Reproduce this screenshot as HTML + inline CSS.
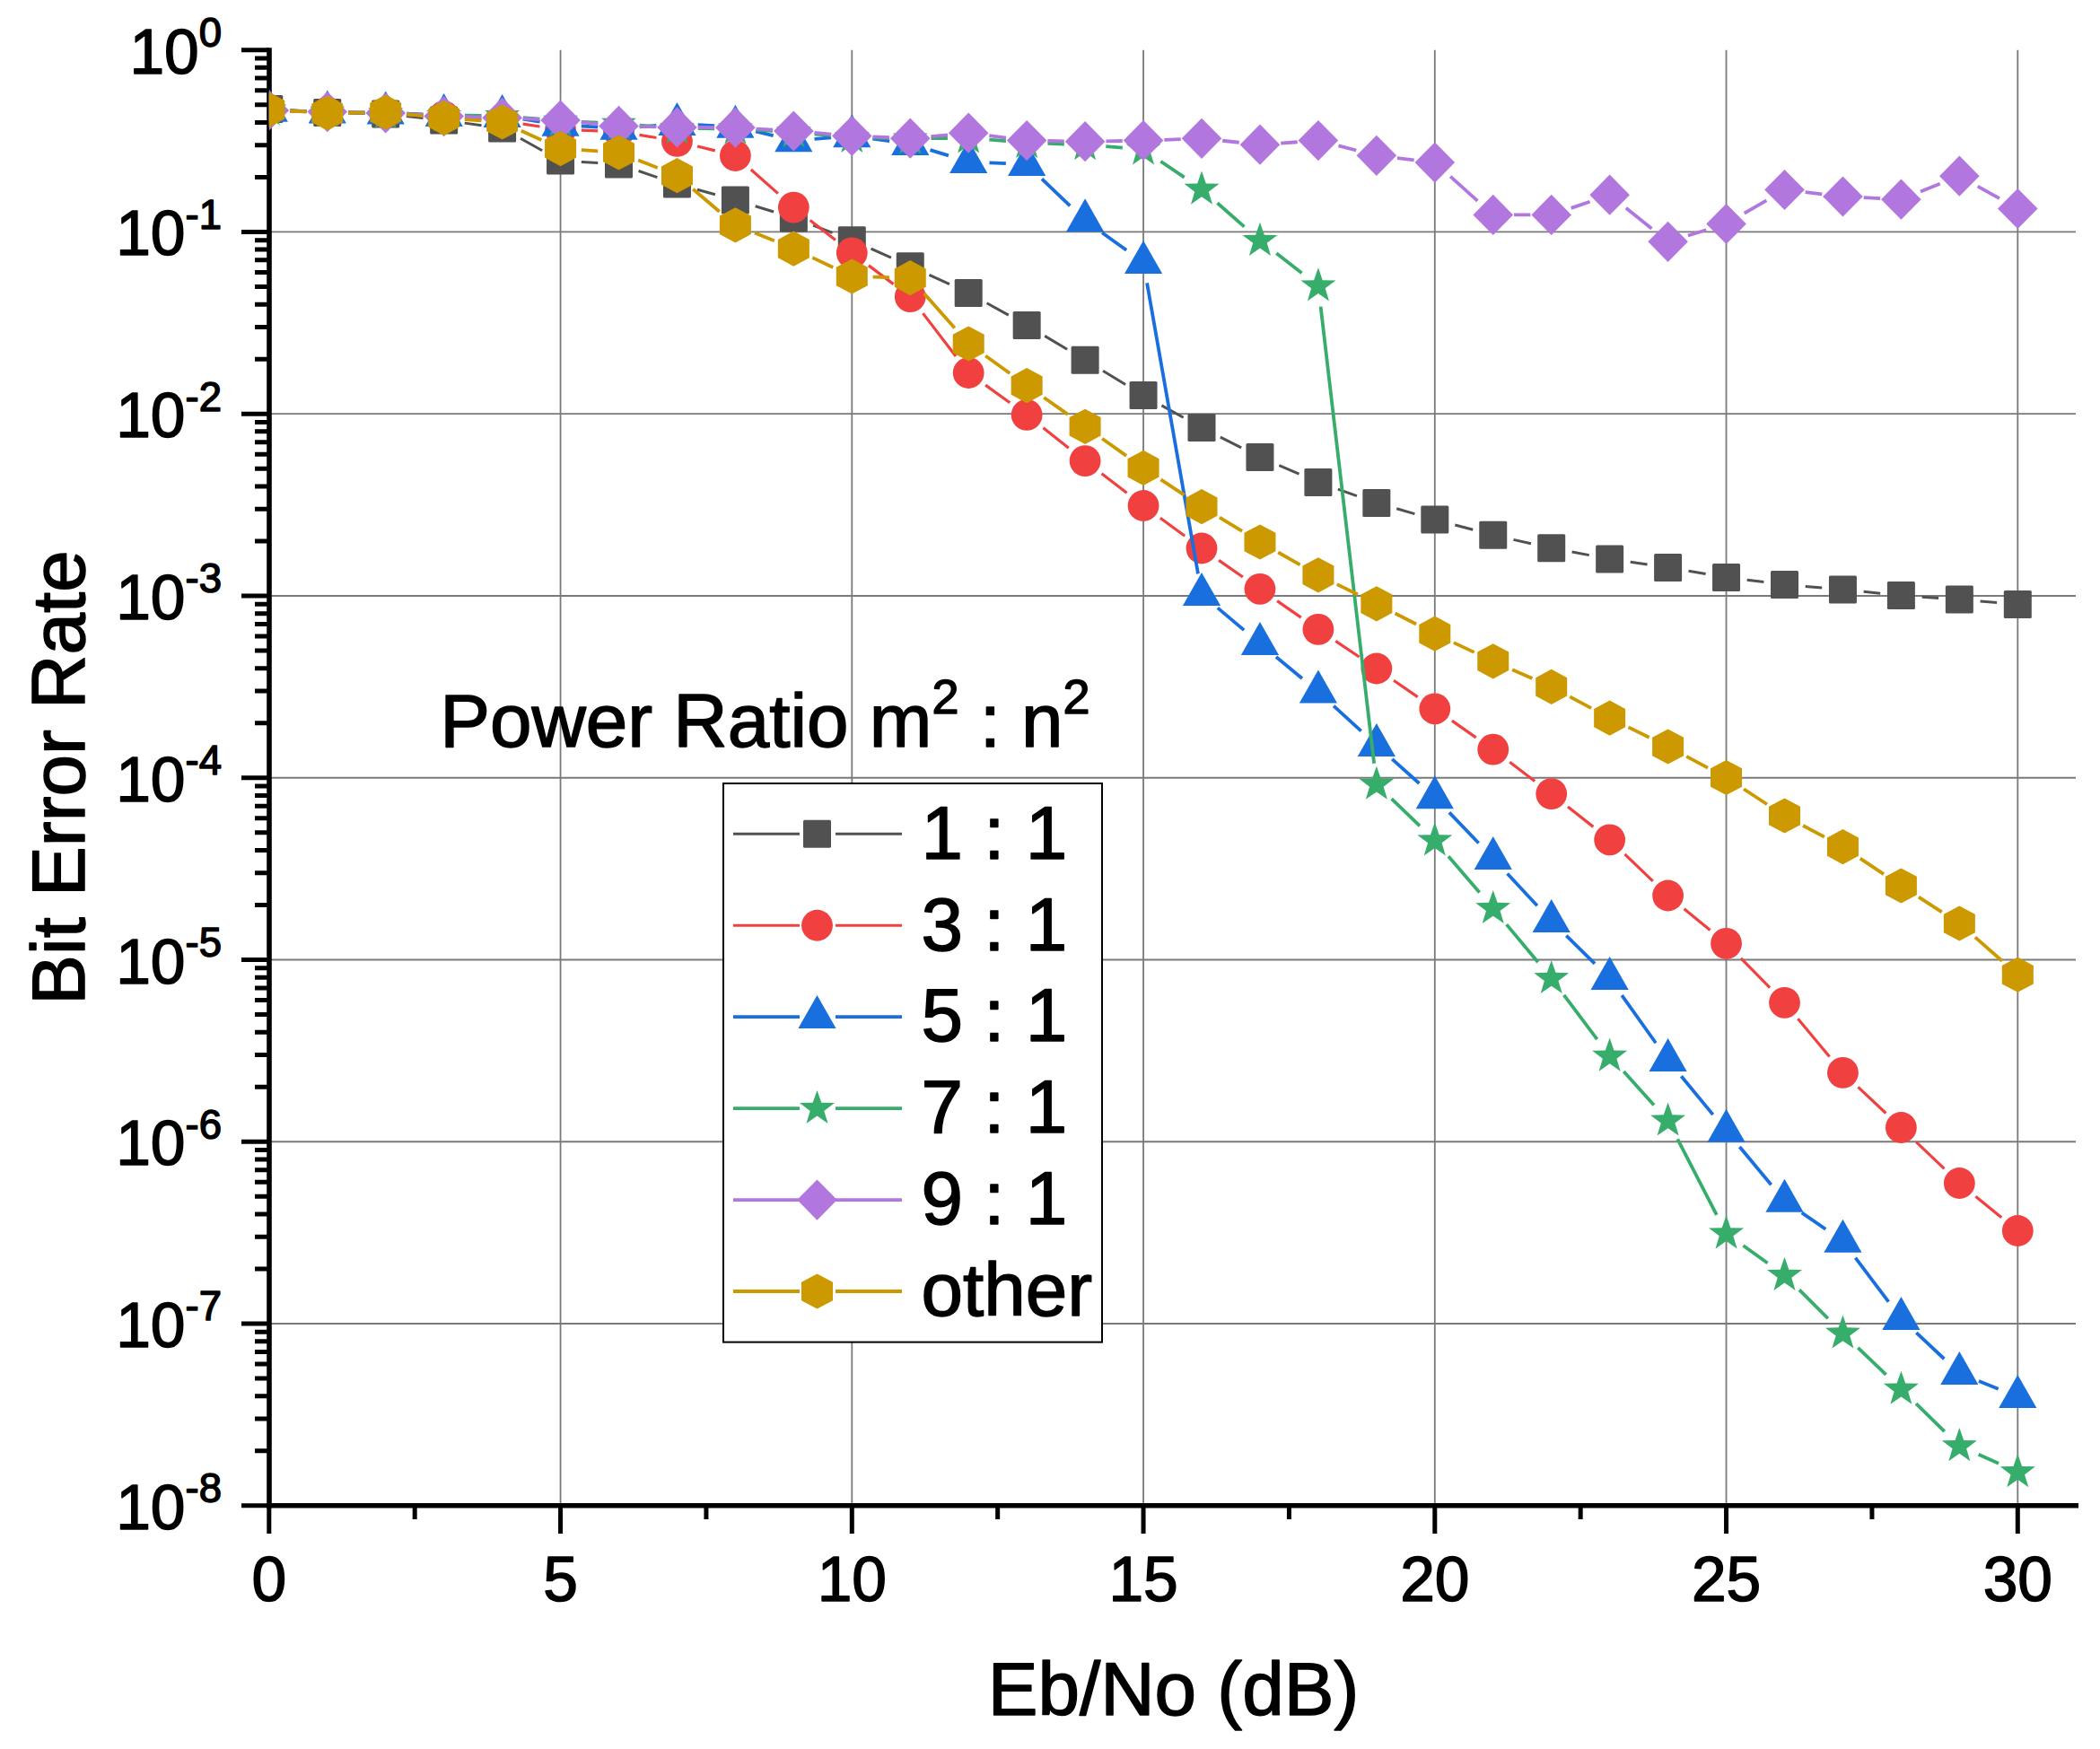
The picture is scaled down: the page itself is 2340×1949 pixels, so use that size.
<!DOCTYPE html>
<html><head><meta charset="utf-8"><title>Bit Error Rate vs Eb/No</title>
<style>html,body{margin:0;padding:0;background:#fff}svg{display:block}text{font-family:"Liberation Sans",Arial,sans-serif;fill:#000;stroke:#000;stroke-width:1.5px;stroke-linejoin:round}</style></head><body>
<svg width="2340" height="1949" viewBox="0 0 2340 1949">
<rect width="2340" height="1949" fill="#fff"/>
<defs><clipPath id="plot"><rect x="299.8" y="25.7" width="2016.2" height="1652.08"/></clipPath></defs>
<path d="M624.55 55.7V1677.78M949.3 55.7V1677.78M1274.05 55.7V1677.78M1598.8 55.7V1677.78M1923.55 55.7V1677.78M2248.3 55.7V1677.78M299.8 258.46H2313M299.8 461.22H2313M299.8 663.98H2313M299.8 866.74H2313M299.8 1069.5H2313M299.8 1272.26H2313M299.8 1475.02H2313" stroke="#7a7a7a" stroke-width="1.8" fill="none"/>
<path d="M300 53.2V1680.58" stroke="#000" stroke-width="5.6" fill="none"/>
<path d="M297.2 1677.78H2316" stroke="#000" stroke-width="5.6" fill="none"/>
<path d="M269 55.7H300M284 197.42H300M284 161.72H300M284 136.39H300M284 116.74H300M284 100.68H300M284 87.11H300M284 75.35H300M284 64.98H300M269 258.46H300M284 400.18H300M284 364.48H300M284 339.15H300M284 319.5H300M284 303.44H300M284 289.87H300M284 278.11H300M284 267.74H300M269 461.22H300M284 602.94H300M284 567.24H300M284 541.91H300M284 522.26H300M284 506.2H300M284 492.63H300M284 480.87H300M284 470.5H300M269 663.98H300M284 805.7H300M284 770H300M284 744.67H300M284 725.02H300M284 708.96H300M284 695.39H300M284 683.63H300M284 673.26H300M269 866.74H300M284 1008.46H300M284 972.76H300M284 947.43H300M284 927.78H300M284 911.72H300M284 898.15H300M284 886.39H300M284 876.02H300M269 1069.5H300M284 1211.22H300M284 1175.52H300M284 1150.19H300M284 1130.54H300M284 1114.48H300M284 1100.91H300M284 1089.15H300M284 1078.78H300M269 1272.26H300M284 1413.98H300M284 1378.28H300M284 1352.95H300M284 1333.3H300M284 1317.24H300M284 1303.67H300M284 1291.91H300M284 1281.54H300M269 1475.02H300M284 1616.74H300M284 1581.04H300M284 1555.71H300M284 1536.06H300M284 1520H300M284 1506.43H300M284 1494.67H300M284 1484.3H300M269 1677.78H300M299.8 1677.78V1709M462.18 1677.78V1693M624.55 1677.78V1709M786.92 1677.78V1693M949.3 1677.78V1709M1111.67 1677.78V1693M1274.05 1677.78V1709M1436.42 1677.78V1693M1598.8 1677.78V1709M1761.17 1677.78V1693M1923.55 1677.78V1709M2085.93 1677.78V1693M2248.3 1677.78V1709" stroke="#000" stroke-width="5" fill="none"/>
<g clip-path="url(#plot)">
<path d="M323.06 122.9L341.49 124M388.04 126.01L406.41 126.49M452.87 129.53L471.48 131.47M517.72 137.13L536.53 139.77M579.98 154.3L604.17 167.7M647.81 180.43L666.24 181.57M711.56 190.51L732.39 197.59M776.92 211.26L796.93 216.74M841.67 229.76L862.08 236.04M906.12 251.21L927.53 259.39M970.58 277.2L992.97 287.2M1035.44 306.39L1058.01 316.71M1099.58 337.7L1123.77 351.1M1164.14 374.37L1189.11 389.33M1229.05 413.34L1254.1 428.46M1294.42 451.82L1318.63 465.28M1359.8 487.1L1383.15 498.9M1425.35 518.62L1447.5 528.18M1490.86 545.18L1511.89 552.62M1556.25 566.81L1576.4 572.59M1621.31 585L1641.24 590.3M1686.49 601.38L1705.96 605.72M1751.61 615.07L1770.74 618.63M1816.7 626.27L1835.55 629.03M1881.57 636.33L1900.58 639.57M1946.68 646.31L1965.37 648.59M2011.71 653.4L2030.24 655M2076.63 659.32L2095.22 661.18M2141.64 665.15L2160.11 666.45M2206.57 670L2225.08 671.5" stroke="#515151" stroke-width="3.0" fill="none"/>
<rect x="284.3" y="106" width="31" height="31" rx="1.5" fill="#515151"/>
<rect x="349.25" y="109.9" width="31" height="31" rx="1.5" fill="#515151"/>
<rect x="414.2" y="111.6" width="31" height="31" rx="1.5" fill="#515151"/>
<rect x="479.15" y="118.4" width="31" height="31" rx="1.5" fill="#515151"/>
<rect x="544.1" y="127.5" width="31" height="31" rx="1.5" fill="#515151"/>
<rect x="609.05" y="163.5" width="31" height="31" rx="1.5" fill="#515151"/>
<rect x="674" y="167.5" width="31" height="31" rx="1.5" fill="#515151"/>
<rect x="738.95" y="189.6" width="31" height="31" rx="1.5" fill="#515151"/>
<rect x="803.9" y="207.4" width="31" height="31" rx="1.5" fill="#515151"/>
<rect x="868.85" y="227.4" width="31" height="31" rx="1.5" fill="#515151"/>
<rect x="933.8" y="252.2" width="31" height="31" rx="1.5" fill="#515151"/>
<rect x="998.75" y="281.2" width="31" height="31" rx="1.5" fill="#515151"/>
<rect x="1063.7" y="310.9" width="31" height="31" rx="1.5" fill="#515151"/>
<rect x="1128.65" y="346.9" width="31" height="31" rx="1.5" fill="#515151"/>
<rect x="1193.6" y="385.8" width="31" height="31" rx="1.5" fill="#515151"/>
<rect x="1258.55" y="425" width="31" height="31" rx="1.5" fill="#515151"/>
<rect x="1323.5" y="461.1" width="31" height="31" rx="1.5" fill="#515151"/>
<rect x="1388.45" y="493.9" width="31" height="31" rx="1.5" fill="#515151"/>
<rect x="1453.4" y="521.9" width="31" height="31" rx="1.5" fill="#515151"/>
<rect x="1518.35" y="544.9" width="31" height="31" rx="1.5" fill="#515151"/>
<rect x="1583.3" y="563.5" width="31" height="31" rx="1.5" fill="#515151"/>
<rect x="1648.25" y="580.8" width="31" height="31" rx="1.5" fill="#515151"/>
<rect x="1713.2" y="595.3" width="31" height="31" rx="1.5" fill="#515151"/>
<rect x="1778.15" y="607.4" width="31" height="31" rx="1.5" fill="#515151"/>
<rect x="1843.1" y="616.9" width="31" height="31" rx="1.5" fill="#515151"/>
<rect x="1908.05" y="628" width="31" height="31" rx="1.5" fill="#515151"/>
<rect x="1973" y="635.9" width="31" height="31" rx="1.5" fill="#515151"/>
<rect x="2037.95" y="641.5" width="31" height="31" rx="1.5" fill="#515151"/>
<rect x="2102.9" y="648" width="31" height="31" rx="1.5" fill="#515151"/>
<rect x="2167.85" y="652.6" width="31" height="31" rx="1.5" fill="#515151"/>
<rect x="2232.8" y="657.9" width="31" height="31" rx="1.5" fill="#515151"/>
<path d="M323.08 123.08L341.47 123.92M388.05 125.36L406.4 125.64M452.96 127.33L471.39 128.37M517.88 131.49L536.37 132.91M582.64 138.18L601.51 141.02M647.84 145.22L666.21 145.78M712.48 150.36L731.47 153.54M777.07 163.01L796.78 167.89M836.83 188.96L866.92 215.64M902.7 245.45L930.95 267.55M967.94 295.88L995.61 316.62M1028.41 349.11L1065.04 396.99M1098.09 429.14L1125.26 448.76M1162.45 476.82L1190.8 499.18M1227.58 527.8L1255.57 549.3M1292.86 577.25L1320.19 597.25M1358.11 624.33L1384.84 642.97M1423.09 669.59L1449.76 688.11M1488.25 714.39L1514.5 732.01M1553.03 758.23L1579.62 776.57M1617.9 803.15L1644.65 821.85M1682.3 849.31L1710.15 870.49M1747 899.02L1775.35 921.38M1810.48 951.92L1841.77 981.88M1876.6 1012.8L1905.55 1036.6M1939.91 1067.99L1972.14 1100.71M2003.4 1135.21L2038.55 1177.49M2070.42 1211.36L2101.43 1240.54M2135.25 1272.59L2166.5 1302.41M2201.4 1333.23L2230.25 1356.77" stroke="#F14040" stroke-width="3.2" fill="none"/>
<circle cx="299.8" cy="122" r="17.4" fill="#F14040"/>
<circle cx="364.75" cy="125" r="17.4" fill="#F14040"/>
<circle cx="429.7" cy="126" r="17.4" fill="#F14040"/>
<circle cx="494.65" cy="129.7" r="17.4" fill="#F14040"/>
<circle cx="559.6" cy="134.7" r="17.4" fill="#F14040"/>
<circle cx="624.55" cy="144.5" r="17.4" fill="#F14040"/>
<circle cx="689.5" cy="146.5" r="17.4" fill="#F14040"/>
<circle cx="754.45" cy="157.4" r="17.4" fill="#F14040"/>
<circle cx="819.4" cy="173.5" r="17.4" fill="#F14040"/>
<circle cx="884.35" cy="231.1" r="17.4" fill="#F14040"/>
<circle cx="949.3" cy="281.9" r="17.4" fill="#F14040"/>
<circle cx="1014.25" cy="330.6" r="17.4" fill="#F14040"/>
<circle cx="1079.2" cy="415.5" r="17.4" fill="#F14040"/>
<circle cx="1144.15" cy="462.4" r="17.4" fill="#F14040"/>
<circle cx="1209.1" cy="513.6" r="17.4" fill="#F14040"/>
<circle cx="1274.05" cy="563.5" r="17.4" fill="#F14040"/>
<circle cx="1339" cy="611" r="17.4" fill="#F14040"/>
<circle cx="1403.95" cy="656.3" r="17.4" fill="#F14040"/>
<circle cx="1468.9" cy="701.4" r="17.4" fill="#F14040"/>
<circle cx="1533.85" cy="745" r="17.4" fill="#F14040"/>
<circle cx="1598.8" cy="789.8" r="17.4" fill="#F14040"/>
<circle cx="1663.75" cy="835.2" r="17.4" fill="#F14040"/>
<circle cx="1728.7" cy="884.6" r="17.4" fill="#F14040"/>
<circle cx="1793.65" cy="935.8" r="17.4" fill="#F14040"/>
<circle cx="1858.6" cy="998" r="17.4" fill="#F14040"/>
<circle cx="1923.55" cy="1051.4" r="17.4" fill="#F14040"/>
<circle cx="1988.5" cy="1117.3" r="17.4" fill="#F14040"/>
<circle cx="2053.45" cy="1195.4" r="17.4" fill="#F14040"/>
<circle cx="2118.4" cy="1256.5" r="17.4" fill="#F14040"/>
<circle cx="2183.35" cy="1318.5" r="17.4" fill="#F14040"/>
<circle cx="2248.3" cy="1371.5" r="17.4" fill="#F14040"/>
<path d="M323.09 123.65L341.46 124.15M388.05 125.16L406.4 125.44M452.98 126.66L471.37 127.34M517.95 128.56L536.3 128.84M582.63 132.71L601.52 135.59M647.81 140.5L666.24 141.6M712.74 141.32L731.21 139.98M777.73 139.27L796.12 140.03M842.06 146.44L861.69 151.16M907.58 154.78L926.07 153.32M972.39 154.59L991.16 157.11M1036.52 167.06L1056.93 173.34M1102.48 181.28L1120.87 182.12M1160.95 199.34L1192.3 229.46M1228 259.22L1255.15 278.78M1278.08 315.35L1334.97 639.35M1356.79 677.34L1386.16 702.16M1421.91 732.05L1450.94 756.05M1486.08 786.64L1516.67 814.66M1551.22 845.93L1581.43 872.97M1614.91 905.34L1647.64 939.56M1679.6 973.48L1712.85 1009.32M1745.32 1042.73L1777.03 1073.87M1807.19 1109.16L1845.06 1162.24M1873.41 1199.19L1908.74 1242.11M1938.46 1278.01L1973.59 1320.19M2007.67 1351.35L2034.28 1369.75M2067.47 1401.61L2104.38 1450.59M2135.38 1485.15L2166.37 1514.25M2204.96 1538.92L2226.69 1547.68" stroke="#1A6FDF" stroke-width="3.8" fill="none"/>
<polygon points="299.8,98.7 278.7,135.7 320.9,135.7" fill="#1A6FDF"/>
<polygon points="364.75,100.5 343.65,137.5 385.85,137.5" fill="#1A6FDF"/>
<polygon points="429.7,101.5 408.6,138.5 450.8,138.5" fill="#1A6FDF"/>
<polygon points="494.65,103.9 473.55,140.9 515.75,140.9" fill="#1A6FDF"/>
<polygon points="559.6,104.9 538.5,141.9 580.7,141.9" fill="#1A6FDF"/>
<polygon points="624.55,114.8 603.45,151.8 645.65,151.8" fill="#1A6FDF"/>
<polygon points="689.5,118.7 668.4,155.7 710.6,155.7" fill="#1A6FDF"/>
<polygon points="754.45,114 733.35,151 775.55,151" fill="#1A6FDF"/>
<polygon points="819.4,116.7 798.3,153.7 840.5,153.7" fill="#1A6FDF"/>
<polygon points="884.35,132.3 863.25,169.3 905.45,169.3" fill="#1A6FDF"/>
<polygon points="949.3,127.2 928.2,164.2 970.4,164.2" fill="#1A6FDF"/>
<polygon points="1014.25,135.9 993.15,172.9 1035.35,172.9" fill="#1A6FDF"/>
<polygon points="1079.2,155.9 1058.1,192.9 1100.3,192.9" fill="#1A6FDF"/>
<polygon points="1144.15,158.9 1123.05,195.9 1165.25,195.9" fill="#1A6FDF"/>
<polygon points="1209.1,221.3 1188,258.3 1230.2,258.3" fill="#1A6FDF"/>
<polygon points="1274.05,268.1 1252.95,305.1 1295.15,305.1" fill="#1A6FDF"/>
<polygon points="1339,638 1317.9,675 1360.1,675" fill="#1A6FDF"/>
<polygon points="1403.95,692.9 1382.85,729.9 1425.05,729.9" fill="#1A6FDF"/>
<polygon points="1468.9,746.6 1447.8,783.6 1490,783.6" fill="#1A6FDF"/>
<polygon points="1533.85,806.1 1512.75,843.1 1554.95,843.1" fill="#1A6FDF"/>
<polygon points="1598.8,864.2 1577.7,901.2 1619.9,901.2" fill="#1A6FDF"/>
<polygon points="1663.75,932.1 1642.65,969.1 1684.85,969.1" fill="#1A6FDF"/>
<polygon points="1728.7,1002.1 1707.6,1039.1 1749.8,1039.1" fill="#1A6FDF"/>
<polygon points="1793.65,1065.9 1772.55,1102.9 1814.75,1102.9" fill="#1A6FDF"/>
<polygon points="1858.6,1156.9 1837.5,1193.9 1879.7,1193.9" fill="#1A6FDF"/>
<polygon points="1923.55,1235.8 1902.45,1272.8 1944.65,1272.8" fill="#1A6FDF"/>
<polygon points="1988.5,1313.8 1967.4,1350.8 2009.6,1350.8" fill="#1A6FDF"/>
<polygon points="2053.45,1358.7 2032.35,1395.7 2074.55,1395.7" fill="#1A6FDF"/>
<polygon points="2118.4,1444.9 2097.3,1481.9 2139.5,1481.9" fill="#1A6FDF"/>
<polygon points="2183.35,1505.9 2162.25,1542.9 2204.45,1542.9" fill="#1A6FDF"/>
<polygon points="2248.3,1532.1 2227.2,1569.1 2269.4,1569.1" fill="#1A6FDF"/>
<path d="M323.09 123.29L341.46 123.91M388.04 125.31L406.41 125.79M452.98 127.33L471.37 128.07M517.95 129L536.3 129M582.81 131.07L601.34 132.73M647.83 135.88L666.22 136.72M712.73 139.66L731.22 141.14M777.75 143.18L796.1 143.32M842.66 144.83L861.09 145.87M907.56 149.27L926.09 150.93M972.59 153.54L990.96 153.96M1037.55 154.21L1055.9 153.99M1102.42 155.6L1120.93 157.1M1167.44 159.82L1185.81 160.48M1232.32 163.2L1250.83 164.7M1293.31 179.71L1319.74 197.69M1356.49 226.2L1386.46 252.6M1422.34 282.3L1450.51 304.2M1471.61 341.64L1531.14 850.76M1550.63 890.07L1582.02 920.33M1613.97 954.18L1648.58 994.52M1678.66 1030.11L1713.79 1072.29M1742.68 1108.84L1779.67 1158.16M1809.27 1194.09L1842.98 1231.41M1869.29 1269.4L1912.86 1353.8M1942.5 1388.06L1969.55 1407.44M2005.01 1437.44L2036.94 1469.26M2070.28 1501.82L2101.57 1531.78M2135.07 1564.18L2166.68 1595.02M2204.63 1620.8L2227.02 1630.8" stroke="#37AD6B" stroke-width="3.8" fill="none"/>
<polygon points="299.8,102.3 304.62,116.17 319.3,116.47 307.6,125.33 311.85,139.38 299.8,131 287.75,139.38 292,125.33 280.3,116.47 294.98,116.17" fill="#37AD6B"/>
<polygon points="364.75,104.5 369.57,118.37 384.25,118.67 372.55,127.53 376.8,141.58 364.75,133.2 352.7,141.58 356.95,127.53 345.25,118.67 359.93,118.37" fill="#37AD6B"/>
<polygon points="429.7,106.2 434.52,120.07 449.2,120.37 437.5,129.23 441.75,143.28 429.7,134.9 417.65,143.28 421.9,129.23 410.2,120.37 424.88,120.07" fill="#37AD6B"/>
<polygon points="494.65,108.8 499.47,122.67 514.15,122.97 502.45,131.83 506.7,145.88 494.65,137.5 482.6,145.88 486.85,131.83 475.15,122.97 489.83,122.67" fill="#37AD6B"/>
<polygon points="559.6,108.8 564.42,122.67 579.1,122.97 567.4,131.83 571.65,145.88 559.6,137.5 547.55,145.88 551.8,131.83 540.1,122.97 554.78,122.67" fill="#37AD6B"/>
<polygon points="624.55,114.6 629.37,128.47 644.05,128.77 632.35,137.63 636.6,151.68 624.55,143.3 612.5,151.68 616.75,137.63 605.05,128.77 619.73,128.47" fill="#37AD6B"/>
<polygon points="689.5,117.6 694.32,131.47 709,131.77 697.3,140.63 701.55,154.68 689.5,146.3 677.45,154.68 681.7,140.63 670,131.77 684.68,131.47" fill="#37AD6B"/>
<polygon points="754.45,122.8 759.27,136.67 773.95,136.97 762.25,145.83 766.5,159.88 754.45,151.5 742.4,159.88 746.65,145.83 734.95,136.97 749.63,136.67" fill="#37AD6B"/>
<polygon points="819.4,123.3 824.22,137.17 838.9,137.47 827.2,146.33 831.45,160.38 819.4,152 807.35,160.38 811.6,146.33 799.9,137.47 814.58,137.17" fill="#37AD6B"/>
<polygon points="884.35,127 889.17,140.87 903.85,141.17 892.15,150.03 896.4,164.08 884.35,155.7 872.3,164.08 876.55,150.03 864.85,141.17 879.53,140.87" fill="#37AD6B"/>
<polygon points="949.3,132.8 954.12,146.67 968.8,146.97 957.1,155.83 961.35,169.88 949.3,161.5 937.25,169.88 941.5,155.83 929.8,146.97 944.48,146.67" fill="#37AD6B"/>
<polygon points="1014.25,134.3 1019.07,148.17 1033.75,148.47 1022.05,157.33 1026.3,171.38 1014.25,163 1002.2,171.38 1006.45,157.33 994.75,148.47 1009.43,148.17" fill="#37AD6B"/>
<polygon points="1079.2,133.5 1084.02,147.37 1098.7,147.67 1087,156.53 1091.25,170.58 1079.2,162.2 1067.15,170.58 1071.4,156.53 1059.7,147.67 1074.38,147.37" fill="#37AD6B"/>
<polygon points="1144.15,138.8 1148.97,152.67 1163.65,152.97 1151.95,161.83 1156.2,175.88 1144.15,167.5 1132.1,175.88 1136.35,161.83 1124.65,152.97 1139.33,152.67" fill="#37AD6B"/>
<polygon points="1209.1,141.1 1213.92,154.97 1228.6,155.27 1216.9,164.13 1221.15,178.18 1209.1,169.8 1197.05,178.18 1201.3,164.13 1189.6,155.27 1204.28,154.97" fill="#37AD6B"/>
<polygon points="1274.05,146.4 1278.87,160.27 1293.55,160.57 1281.85,169.43 1286.1,183.48 1274.05,175.1 1262,183.48 1266.25,169.43 1254.55,160.57 1269.23,160.27" fill="#37AD6B"/>
<polygon points="1339,190.6 1343.82,204.47 1358.5,204.77 1346.8,213.63 1351.05,227.68 1339,219.3 1326.95,227.68 1331.2,213.63 1319.5,204.77 1334.18,204.47" fill="#37AD6B"/>
<polygon points="1403.95,247.8 1408.77,261.67 1423.45,261.97 1411.75,270.83 1416,284.88 1403.95,276.5 1391.9,284.88 1396.15,270.83 1384.45,261.97 1399.13,261.67" fill="#37AD6B"/>
<polygon points="1468.9,298.3 1473.72,312.17 1488.4,312.47 1476.7,321.33 1480.95,335.38 1468.9,327 1456.85,335.38 1461.1,321.33 1449.4,312.47 1464.08,312.17" fill="#37AD6B"/>
<polygon points="1533.85,853.7 1538.67,867.57 1553.35,867.87 1541.65,876.73 1545.9,890.78 1533.85,882.4 1521.8,890.78 1526.05,876.73 1514.35,867.87 1529.03,867.57" fill="#37AD6B"/>
<polygon points="1598.8,916.3 1603.62,930.17 1618.3,930.47 1606.6,939.33 1610.85,953.38 1598.8,945 1586.75,953.38 1591,939.33 1579.3,930.47 1593.98,930.17" fill="#37AD6B"/>
<polygon points="1663.75,992 1668.57,1005.87 1683.25,1006.17 1671.55,1015.03 1675.8,1029.08 1663.75,1020.7 1651.7,1029.08 1655.95,1015.03 1644.25,1006.17 1658.93,1005.87" fill="#37AD6B"/>
<polygon points="1728.7,1070 1733.52,1083.87 1748.2,1084.17 1736.5,1093.03 1740.75,1107.08 1728.7,1098.7 1716.65,1107.08 1720.9,1093.03 1709.2,1084.17 1723.88,1083.87" fill="#37AD6B"/>
<polygon points="1793.65,1156.6 1798.47,1170.47 1813.15,1170.77 1801.45,1179.63 1805.7,1193.68 1793.65,1185.3 1781.6,1193.68 1785.85,1179.63 1774.15,1170.77 1788.83,1170.47" fill="#37AD6B"/>
<polygon points="1858.6,1228.5 1863.42,1242.37 1878.1,1242.67 1866.4,1251.53 1870.65,1265.58 1858.6,1257.2 1846.55,1265.58 1850.8,1251.53 1839.1,1242.67 1853.78,1242.37" fill="#37AD6B"/>
<polygon points="1923.55,1354.3 1928.37,1368.17 1943.05,1368.47 1931.35,1377.33 1935.6,1391.38 1923.55,1383 1911.5,1391.38 1915.75,1377.33 1904.05,1368.47 1918.73,1368.17" fill="#37AD6B"/>
<polygon points="1988.5,1400.8 1993.32,1414.67 2008,1414.97 1996.3,1423.83 2000.55,1437.88 1988.5,1429.5 1976.45,1437.88 1980.7,1423.83 1969,1414.97 1983.68,1414.67" fill="#37AD6B"/>
<polygon points="2053.45,1465.5 2058.27,1479.37 2072.95,1479.67 2061.25,1488.53 2065.5,1502.58 2053.45,1494.2 2041.4,1502.58 2045.65,1488.53 2033.95,1479.67 2048.63,1479.37" fill="#37AD6B"/>
<polygon points="2118.4,1527.7 2123.22,1541.57 2137.9,1541.87 2126.2,1550.73 2130.45,1564.78 2118.4,1556.4 2106.35,1564.78 2110.6,1550.73 2098.9,1541.87 2113.58,1541.57" fill="#37AD6B"/>
<polygon points="2183.35,1591.1 2188.17,1604.97 2202.85,1605.27 2191.15,1614.13 2195.4,1628.18 2183.35,1619.8 2171.3,1628.18 2175.55,1614.13 2163.85,1605.27 2178.53,1604.97" fill="#37AD6B"/>
<polygon points="2248.3,1620.1 2253.12,1633.97 2267.8,1634.27 2256.1,1643.13 2260.35,1657.18 2248.3,1648.8 2236.25,1657.18 2240.5,1643.13 2228.8,1634.27 2243.48,1633.97" fill="#37AD6B"/>
<path d="M323.09 123.57L341.46 124.03M388.05 125.07L406.4 125.43M452.96 127.23L471.39 128.27M517.94 130.17L536.31 130.63M582.88 132.2L601.27 133M647.74 136.28L666.31 138.12M712.79 140.94L731.16 141.36M777.75 142.01L796.1 142.09M842.66 143.56L861.09 144.64M907.57 147.97L926.08 149.53M972.58 152.47L990.97 153.23M1037.45 152.06L1056 150.34M1102.31 151.19L1121.04 153.61M1167.45 156.99L1185.8 157.31M1232.4 157.31L1250.75 156.99M1297.34 155.78L1315.71 155.12M1362.17 156.76L1380.78 158.74M1427.19 159.55L1445.66 158.25M1491.47 162.4L1511.28 167.5M1556.98 176.08L1575.67 178.32M1616.14 196.66L1646.41 223.84M1687.05 239.4L1705.4 239.4M1750.75 231.86L1771.6 224.74M1811.83 231.78L1840.42 254.72M1880.89 262.51L1901.26 256.29M1943.66 237.73L1968.39 223.27M2011.65 214.17L2030.3 216.33M2076.72 220.15L2095.13 221.05M2140.03 213.54L2161.72 204.86M2203.69 207.57L2227.96 221.13" stroke="#B177DE" stroke-width="3.8" fill="none"/>
<polygon points="299.8,100.4 322.1,123 299.8,145.6 277.5,123" fill="#B177DE"/>
<polygon points="364.75,102 387.05,124.6 364.75,147.2 342.45,124.6" fill="#B177DE"/>
<polygon points="429.7,103.3 452,125.9 429.7,148.5 407.4,125.9" fill="#B177DE"/>
<polygon points="494.65,107 516.95,129.6 494.65,152.2 472.35,129.6" fill="#B177DE"/>
<polygon points="559.6,108.6 581.9,131.2 559.6,153.8 537.3,131.2" fill="#B177DE"/>
<polygon points="624.55,111.4 646.85,134 624.55,156.6 602.25,134" fill="#B177DE"/>
<polygon points="689.5,117.8 711.8,140.4 689.5,163 667.2,140.4" fill="#B177DE"/>
<polygon points="754.45,119.3 776.75,141.9 754.45,164.5 732.15,141.9" fill="#B177DE"/>
<polygon points="819.4,119.6 841.7,142.2 819.4,164.8 797.1,142.2" fill="#B177DE"/>
<polygon points="884.35,123.4 906.65,146 884.35,168.6 862.05,146" fill="#B177DE"/>
<polygon points="949.3,128.9 971.6,151.5 949.3,174.1 927,151.5" fill="#B177DE"/>
<polygon points="1014.25,131.6 1036.55,154.2 1014.25,176.8 991.95,154.2" fill="#B177DE"/>
<polygon points="1079.2,125.6 1101.5,148.2 1079.2,170.8 1056.9,148.2" fill="#B177DE"/>
<polygon points="1144.15,134 1166.45,156.6 1144.15,179.2 1121.85,156.6" fill="#B177DE"/>
<polygon points="1209.1,135.1 1231.4,157.7 1209.1,180.3 1186.8,157.7" fill="#B177DE"/>
<polygon points="1274.05,134 1296.35,156.6 1274.05,179.2 1251.75,156.6" fill="#B177DE"/>
<polygon points="1339,131.7 1361.3,154.3 1339,176.9 1316.7,154.3" fill="#B177DE"/>
<polygon points="1403.95,138.6 1426.25,161.2 1403.95,183.8 1381.65,161.2" fill="#B177DE"/>
<polygon points="1468.9,134 1491.2,156.6 1468.9,179.2 1446.6,156.6" fill="#B177DE"/>
<polygon points="1533.85,150.7 1556.15,173.3 1533.85,195.9 1511.55,173.3" fill="#B177DE"/>
<polygon points="1598.8,158.5 1621.1,181.1 1598.8,203.7 1576.5,181.1" fill="#B177DE"/>
<polygon points="1663.75,216.8 1686.05,239.4 1663.75,262 1641.45,239.4" fill="#B177DE"/>
<polygon points="1728.7,216.8 1751,239.4 1728.7,262 1706.4,239.4" fill="#B177DE"/>
<polygon points="1793.65,194.6 1815.95,217.2 1793.65,239.8 1771.35,217.2" fill="#B177DE"/>
<polygon points="1858.6,246.7 1880.9,269.3 1858.6,291.9 1836.3,269.3" fill="#B177DE"/>
<polygon points="1923.55,226.9 1945.85,249.5 1923.55,272.1 1901.25,249.5" fill="#B177DE"/>
<polygon points="1988.5,188.9 2010.8,211.5 1988.5,234.1 1966.2,211.5" fill="#B177DE"/>
<polygon points="2053.45,196.4 2075.75,219 2053.45,241.6 2031.15,219" fill="#B177DE"/>
<polygon points="2118.4,199.6 2140.7,222.2 2118.4,244.8 2096.1,222.2" fill="#B177DE"/>
<polygon points="2183.35,173.6 2205.65,196.2 2183.35,218.8 2161.05,196.2" fill="#B177DE"/>
<polygon points="2248.3,209.9 2270.6,232.5 2248.3,255.1 2226,232.5" fill="#B177DE"/>
<path d="M323.06 123.63L341.49 124.67M388.05 125.64L406.4 125.36M452.89 127.28L471.46 129.12M517.89 133.05L536.36 134.35M580.8 145.66L603.35 155.94M647.8 167.17L666.25 168.43M711.18 178.54L732.77 187.06M772.2 210.69L801.65 235.71M841 259.55L862.75 268.35M905.39 287.11L928.26 297.99M972.59 308.57L990.96 309.03M1029.69 327.05L1063.76 365.55M1098.13 396.58L1125.22 416.02M1163.21 443.01L1190.04 461.89M1228.1 488.79L1255.05 507.91M1293.45 534.3L1319.6 551.7M1358.92 576.68L1384.03 591.92M1424.22 615.49L1448.63 629.31M1489.8 651.1L1512.95 662.5M1554.57 683.46L1578.08 695.54M1619.88 716.13L1642.67 726.87M1685.07 746.19L1707.38 756.01M1749.25 776.38L1773.1 789.12M1814.56 810.37L1837.69 821.73M1879.18 842.93L1902.97 855.57M1943.05 879.26L1969 896.24M2009.06 919.95L2032.89 932.65M2072.82 956.55L2099.03 974.05M2137.97 999.65L2163.78 1016.35M2200.84 1044.4L2230.81 1070.8" stroke="#CC9900" stroke-width="3.8" fill="none"/>
<polygon points="299.8,102.7 317.3,112.1 317.3,132.5 299.8,141.9 282.3,132.5 282.3,112.1" fill="#CC9900"/>
<polygon points="364.75,106.4 382.25,115.8 382.25,136.2 364.75,145.6 347.25,136.2 347.25,115.8" fill="#CC9900"/>
<polygon points="429.7,105.4 447.2,114.8 447.2,135.2 429.7,144.6 412.2,135.2 412.2,114.8" fill="#CC9900"/>
<polygon points="494.65,111.8 512.15,121.2 512.15,141.6 494.65,151 477.15,141.6 477.15,121.2" fill="#CC9900"/>
<polygon points="559.6,116.4 577.1,125.8 577.1,146.2 559.6,155.6 542.1,146.2 542.1,125.8" fill="#CC9900"/>
<polygon points="624.55,146 642.05,155.4 642.05,175.8 624.55,185.2 607.05,175.8 607.05,155.4" fill="#CC9900"/>
<polygon points="689.5,150.4 707,159.8 707,180.2 689.5,189.6 672,180.2 672,159.8" fill="#CC9900"/>
<polygon points="754.45,176 771.95,185.4 771.95,205.8 754.45,215.2 736.95,205.8 736.95,185.4" fill="#CC9900"/>
<polygon points="819.4,231.2 836.9,240.6 836.9,261 819.4,270.4 801.9,261 801.9,240.6" fill="#CC9900"/>
<polygon points="884.35,257.5 901.85,266.9 901.85,287.3 884.35,296.7 866.85,287.3 866.85,266.9" fill="#CC9900"/>
<polygon points="949.3,288.4 966.8,297.8 966.8,318.2 949.3,327.6 931.8,318.2 931.8,297.8" fill="#CC9900"/>
<polygon points="1014.25,290 1031.75,299.4 1031.75,319.8 1014.25,329.2 996.75,319.8 996.75,299.4" fill="#CC9900"/>
<polygon points="1079.2,363.4 1096.7,372.8 1096.7,393.2 1079.2,402.6 1061.7,393.2 1061.7,372.8" fill="#CC9900"/>
<polygon points="1144.15,410 1161.65,419.4 1161.65,439.8 1144.15,449.2 1126.65,439.8 1126.65,419.4" fill="#CC9900"/>
<polygon points="1209.1,455.7 1226.6,465.1 1226.6,485.5 1209.1,494.9 1191.6,485.5 1191.6,465.1" fill="#CC9900"/>
<polygon points="1274.05,501.8 1291.55,511.2 1291.55,531.6 1274.05,541 1256.55,531.6 1256.55,511.2" fill="#CC9900"/>
<polygon points="1339,545 1356.5,554.4 1356.5,574.8 1339,584.2 1321.5,574.8 1321.5,554.4" fill="#CC9900"/>
<polygon points="1403.95,584.4 1421.45,593.8 1421.45,614.2 1403.95,623.6 1386.45,614.2 1386.45,593.8" fill="#CC9900"/>
<polygon points="1468.9,621.2 1486.4,630.6 1486.4,651 1468.9,660.4 1451.4,651 1451.4,630.6" fill="#CC9900"/>
<polygon points="1533.85,653.2 1551.35,662.6 1551.35,683 1533.85,692.4 1516.35,683 1516.35,662.6" fill="#CC9900"/>
<polygon points="1598.8,686.6 1616.3,696 1616.3,716.4 1598.8,725.8 1581.3,716.4 1581.3,696" fill="#CC9900"/>
<polygon points="1663.75,717.2 1681.25,726.6 1681.25,747 1663.75,756.4 1646.25,747 1646.25,726.6" fill="#CC9900"/>
<polygon points="1728.7,745.8 1746.2,755.2 1746.2,775.6 1728.7,785 1711.2,775.6 1711.2,755.2" fill="#CC9900"/>
<polygon points="1793.65,780.5 1811.15,789.9 1811.15,810.3 1793.65,819.7 1776.15,810.3 1776.15,789.9" fill="#CC9900"/>
<polygon points="1858.6,812.4 1876.1,821.8 1876.1,842.2 1858.6,851.6 1841.1,842.2 1841.1,821.8" fill="#CC9900"/>
<polygon points="1923.55,846.9 1941.05,856.3 1941.05,876.7 1923.55,886.1 1906.05,876.7 1906.05,856.3" fill="#CC9900"/>
<polygon points="1988.5,889.4 2006,898.8 2006,919.2 1988.5,928.6 1971,919.2 1971,898.8" fill="#CC9900"/>
<polygon points="2053.45,924 2070.95,933.4 2070.95,953.8 2053.45,963.2 2035.95,953.8 2035.95,933.4" fill="#CC9900"/>
<polygon points="2118.4,967.4 2135.9,976.8 2135.9,997.2 2118.4,1006.6 2100.9,997.2 2100.9,976.8" fill="#CC9900"/>
<polygon points="2183.35,1009.4 2200.85,1018.8 2200.85,1039.2 2183.35,1048.6 2165.85,1039.2 2165.85,1018.8" fill="#CC9900"/>
<polygon points="2248.3,1066.6 2265.8,1076 2265.8,1096.4 2248.3,1105.8 2230.8,1096.4 2230.8,1076" fill="#CC9900"/>
</g>
<text x="247" y="81.7" font-size="69.5" text-anchor="end">10<tspan font-size="45.5" dy="-29.6">0</tspan></text>
<text x="247" y="284.46" font-size="69.5" text-anchor="end">10<tspan font-size="45.5" dy="-29.6">-1</tspan></text>
<text x="247" y="487.22" font-size="69.5" text-anchor="end">10<tspan font-size="45.5" dy="-29.6">-2</tspan></text>
<text x="247" y="689.98" font-size="69.5" text-anchor="end">10<tspan font-size="45.5" dy="-29.6">-3</tspan></text>
<text x="247" y="892.74" font-size="69.5" text-anchor="end">10<tspan font-size="45.5" dy="-29.6">-4</tspan></text>
<text x="247" y="1095.5" font-size="69.5" text-anchor="end">10<tspan font-size="45.5" dy="-29.6">-5</tspan></text>
<text x="247" y="1298.26" font-size="69.5" text-anchor="end">10<tspan font-size="45.5" dy="-29.6">-6</tspan></text>
<text x="247" y="1501.02" font-size="69.5" text-anchor="end">10<tspan font-size="45.5" dy="-29.6">-7</tspan></text>
<text x="247" y="1703.78" font-size="69.5" text-anchor="end">10<tspan font-size="45.5" dy="-29.6">-8</tspan></text>
<text x="299.8" y="1784" font-size="69.5" text-anchor="middle">0</text>
<text x="624.55" y="1784" font-size="69.5" text-anchor="middle">5</text>
<text x="949.3" y="1784" font-size="69.5" text-anchor="middle">10</text>
<text x="1274.05" y="1784" font-size="69.5" text-anchor="middle">15</text>
<text x="1598.8" y="1784" font-size="69.5" text-anchor="middle">20</text>
<text x="1923.55" y="1784" font-size="69.5" text-anchor="middle">25</text>
<text x="2248.3" y="1784" font-size="69.5" text-anchor="middle">30</text>
<text x="1307.5" y="1910.8" font-size="83.6" text-anchor="middle">Eb/No (dB)</text>
<text transform="translate(94.4 866.5) rotate(-90)" font-size="83.6" text-anchor="middle">Bit Error Rate</text>
<text x="490.2" y="832" font-size="83.6">Power Ratio m<tspan font-size="54" dy="-37">2</tspan><tspan dy="37"> : n</tspan><tspan font-size="54" dy="-37">2</tspan></text>
<rect x="806" y="873" width="422" height="622.6" fill="#fff" stroke="#000" stroke-width="2"/>
<path d="M817 929.3H891M931 929.3H1005" stroke="#515151" stroke-width="3.0" fill="none"/>
<rect x="895" y="913.8" width="31" height="31" rx="1.5" fill="#515151"/>
<text x="1026.5" y="956.6" font-size="83.6">1 : 1</text>
<path d="M817 1031.24H891M931 1031.24H1005" stroke="#F14040" stroke-width="3.2" fill="none"/>
<circle cx="910.5" cy="1031.24" r="17.4" fill="#F14040"/>
<text x="1026.5" y="1058.54" font-size="83.6">3 : 1</text>
<path d="M817 1133.18H891M931 1133.18H1005" stroke="#1A6FDF" stroke-width="3.8" fill="none"/>
<polygon points="910.5,1108.88 889.4,1145.88 931.6,1145.88" fill="#1A6FDF"/>
<text x="1026.5" y="1160.48" font-size="83.6">5 : 1</text>
<path d="M817 1235.12H891M931 1235.12H1005" stroke="#37AD6B" stroke-width="3.8" fill="none"/>
<polygon points="910.5,1214.92 915.32,1228.79 930,1229.09 918.3,1237.95 922.55,1252 910.5,1243.62 898.45,1252 902.7,1237.95 891,1229.09 905.68,1228.79" fill="#37AD6B"/>
<text x="1026.5" y="1262.42" font-size="83.6">7 : 1</text>
<path d="M817 1337.06H891M931 1337.06H1005" stroke="#B177DE" stroke-width="3.8" fill="none"/>
<polygon points="910.5,1314.46 932.8,1337.06 910.5,1359.66 888.2,1337.06" fill="#B177DE"/>
<text x="1026.5" y="1364.36" font-size="83.6">9 : 1</text>
<path d="M817 1439H891M931 1439H1005" stroke="#CC9900" stroke-width="3.8" fill="none"/>
<polygon points="910.5,1419.4 928,1428.8 928,1449.2 910.5,1458.6 893,1449.2 893,1428.8" fill="#CC9900"/>
<text x="1026.5" y="1466.3" font-size="83.6">other</text>
</svg></body></html>
